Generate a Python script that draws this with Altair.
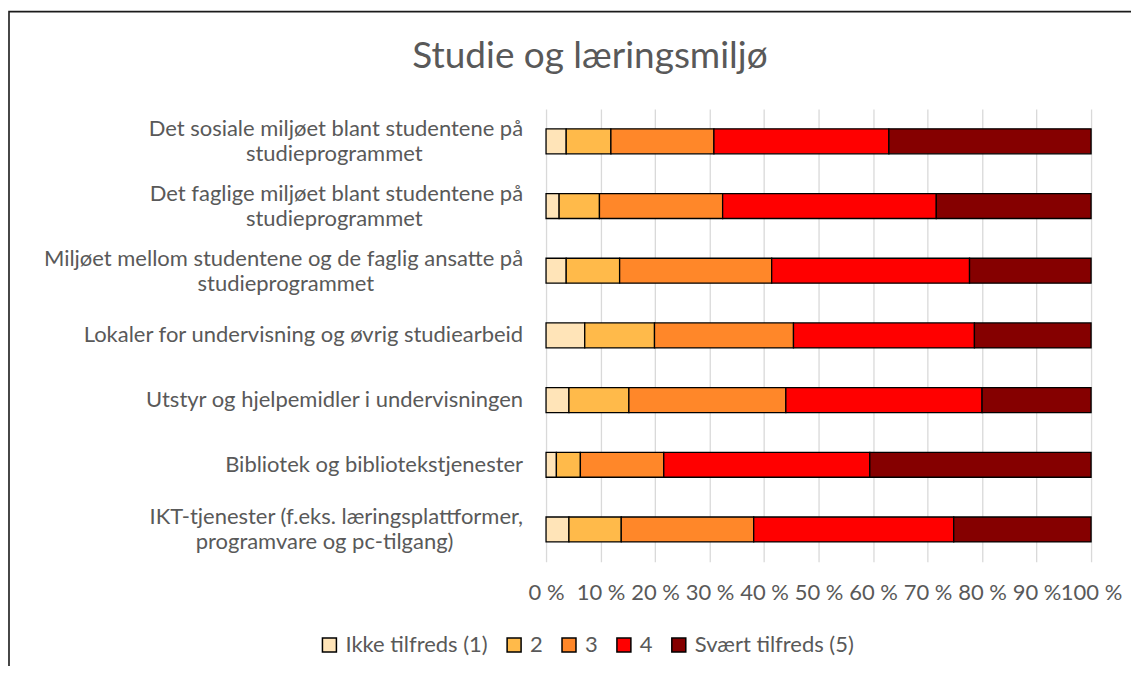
import altair as alt
import pandas as pd

# ---------------- data ----------------
categories = [
    "Det sosiale miljøet blant studentene på studieprogrammet",
    "Det faglige miljøet blant studentene på studieprogrammet",
    "Miljøet mellom studentene og de faglig ansatte på studieprogrammet",
    "Lokaler for undervisning og øvrig studiearbeid",
    "Utstyr og hjelpemidler i undervisningen",
    "Bibliotek og bibliotekstjenester",
    "IKT-tjenester (f.eks. læringsplattformer, programvare og pc-tilgang)",
]
label_line1 = [
    "Det sosiale miljøet blant studentene på",
    "Det faglige miljøet blant studentene på",
    "Miljøet mellom studentene og de faglig ansatte på",
    "Lokaler for undervisning og øvrig studiearbeid",
    "Utstyr og hjelpemidler i undervisningen",
    "Bibliotek og bibliotekstjenester",
    "IKT-tjenester (f.eks. læringsplattformer,",
]
label_line2 = [
    "studieprogrammet",
    "studieprogrammet",
    "studieprogrammet",
    "",
    "",
    "",
    "programvare og pc-tilgang)",
]

series = ["Ikke tilfreds (1)", "2", "3", "4", "Svært tilfreds (5)"]
colors = ["#FFE4B8", "#FFBA4A", "#FF8729", "#FF0000", "#850000"]

s1 = [3.7, 2.4, 3.7, 7.1, 4.2, 1.9, 4.2]
s2 = [8.2, 7.4, 9.8, 12.8, 11.0, 4.4, 9.6]
s3 = [18.9, 22.6, 27.9, 25.5, 28.8, 15.3, 24.3]
s4 = [32.1, 39.2, 36.3, 33.2, 36.0, 37.8, 36.7]
s5 = [37.1, 28.4, 22.3, 21.4, 20.0, 40.6, 25.2]

x_ticks = [0, 10, 20, 30, 40, 50, 60, 70, 80, 90, 100]
title_text = "Studie og læringsmiljø"

# ---------------- style ----------------
FONT = "Lato"
GREY = "#595959"
LABEL_SIZE = 22
PLOT_W = 546
PLOT_H = 453.6
PX_PER_UNIT = PLOT_W / 100.0
CHAR_W = 9.7
LABEL_GAP = 23

rows = []
for i, cat in enumerate(categories):
    for j, (name, vals) in enumerate(zip(series, [s1, s2, s3, s4, s5])):
        rows.append({"cat": cat, "series": name, "value": vals[i], "ord": j})
df = pd.DataFrame(rows)

lab = pd.DataFrame({
    "cat": categories,
    "line1": label_line1,
    "line2": label_line2,
})
lab["two"] = lab["line2"] != ""
lab["cx"] = (-LABEL_GAP - lab["line1"].str.len() * CHAR_W / 2) / PX_PER_UNIT

y_enc = alt.Y("cat:N", sort=categories, axis=None,
              scale=alt.Scale(paddingInner=0, paddingOuter=0))

frame = alt.Chart(pd.DataFrame({"f": [0]})).mark_rect(
    filled=False, stroke="#1a1a1a", strokeWidth=1.6
).encode(
    x=alt.value(-538), x2=alt.value(900),
    y=alt.value(-97.6), y2=alt.value(800),
)

bars = alt.Chart(df).mark_bar(size=25, stroke="black", strokeWidth=1.3).encode(
    y=y_enc,
    x=alt.X(
        "value:Q", stack="zero", title=None,
        scale=alt.Scale(domain=[0, 100], nice=False),
        axis=alt.Axis(
            values=x_ticks, labelExpr="datum.value + ' %'",
            grid=True, gridColor="#D9D9D9", gridWidth=1.3,
            domain=False, ticks=False,
            labelFont=FONT, labelFontSize=LABEL_SIZE, labelColor=GREY,
            labelPadding=31, labelBaseline="middle",
            labelFlush=False, labelOverlap=False,
        ),
    ),
    color=alt.Color(
        "series:N", sort=series,
        scale=alt.Scale(domain=series, range=colors),
        legend=alt.Legend(
            orient="none", legendX=-228, legendY=526, direction="horizontal",
            title=None, symbolType="square", symbolSize=196,
            symbolStrokeColor="black", symbolStrokeWidth=1.5,
            labelFont=FONT, labelFontSize=LABEL_SIZE, labelColor=GREY,
            labelOffset=5, columnPadding=15, symbolOpacity=1, labelLimit=400,
        ),
    ),
    order=alt.Order("ord:Q"),
)

text_style = dict(font=FONT, fontSize=LABEL_SIZE, color=GREY, baseline="middle")

single = alt.Chart(lab).transform_filter("!datum.two").mark_text(
    align="right", **text_style
).encode(y=y_enc, x=alt.value(-LABEL_GAP), text="line1:N")

first = alt.Chart(lab).transform_filter("datum.two").mark_text(
    align="right", dy=-12, **text_style
).encode(y=y_enc, x=alt.value(-LABEL_GAP), text="line1:N")

second = alt.Chart(lab).transform_filter("datum.two").mark_text(
    align="center", dy=13, **text_style
).encode(y=y_enc, x=alt.X("cx:Q"), text="line2:N")

title = alt.Chart(pd.DataFrame({"t": [title_text]})).mark_text(
    font=FONT, fontSize=37, color=GREY, align="center", baseline="middle"
).encode(x=alt.value(44), y=alt.value(-51.6), text="t:N")

chart = alt.layer(frame, bars, single, first, second, title).properties(
    width=PLOT_W, height=PLOT_H,
    padding={"left": 539, "top": 100.6, "right": 40, "bottom": 103.8},
    autosize=alt.AutoSizeParams(type="none"),
    background="white",
).configure_view(stroke=None)

chart.save("out.html", embed_options={"renderer": "svg", "actions": False})
